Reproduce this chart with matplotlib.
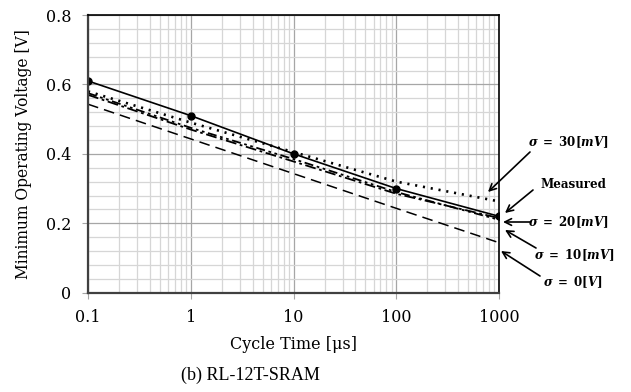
import matplotlib.pyplot as plt
from matplotlib.ticker import FixedLocator, MultipleLocator, NullFormatter

plt.rcParams['font.family'] = ['DejaVu Serif']
plt.rcParams['mathtext.fontset'] = 'dejavuserif'

cycle = [0.1, 1, 10, 100, 1000]
measured = [0.61, 0.51, 0.40, 0.30, 0.22]
sig30 = [0.58, 0.49, 0.405, 0.32, 0.263]
sig20 = [0.575, 0.475, 0.385, 0.29, 0.21]
sig10 = [0.57, 0.47, 0.378, 0.285, 0.215]
sig0 = [0.543, 0.443, 0.343, 0.243, 0.144]

xticks = [0.1, 1, 10, 100, 1000]
xticklabels = ['0.1', '1', '10', '100', '1000']
yticks = [0, 0.2, 0.4, 0.6, 0.8]
yticklabels = ['0', '0.2', '0.4', '0.6', '0.8']

fig = plt.figure(figsize=(6.31, 3.92), dpi=100)
ax = fig.add_axes([0.1395, 0.2533, 0.6515, 0.7084])

ax.plot(cycle, sig0, color='black', lw=1.1, ls=(0, (7, 4)))
ax.plot(cycle, sig10, color='black', lw=1.3, ls=(0, (6, 2, 1.5, 2)))
ax.plot(cycle, sig20, color='black', lw=1.3, ls=(0, (5, 2, 1.5, 2, 1.5, 2)))
ax.plot(cycle, sig30, color='black', lw=1.9, ls=(0, (0.8, 2.2)))
ax.plot(cycle, measured, color='black', lw=1.2, marker='o', ms=5)

ax.set_xscale('log')
ax.set_xlim(0.1, 1000)
ax.set_ylim(0, 0.8)
ax.xaxis.set_major_locator(FixedLocator(xticks))
ax.set_xticklabels(xticklabels)
ax.xaxis.set_minor_formatter(NullFormatter())
ax.set_yticks(yticks)
ax.set_yticklabels(yticklabels)
ax.yaxis.set_minor_locator(MultipleLocator(0.04))

ax.grid(which='major', color='#a6a6a6', lw=0.9)
ax.grid(which='minor', color='#d6d6d6', lw=0.9)
ax.set_axisbelow(True)
ax.tick_params(which='major', length=4, color='#a6a6a6', labelsize=11.5, pad=8)
ax.tick_params(which='minor', length=0)
for s in ['left', 'bottom']:
    ax.spines[s].set_color('#404040')
    ax.spines[s].set_linewidth(1.6)
for s in ['top', 'right']:
    ax.spines[s].set_color('black')
    ax.spines[s].set_linewidth(1.2)

ax.set_xlabel('Cycle Time [μs]', fontsize=11.5, labelpad=7)
ax.set_ylabel('Minimum Operating Voltage [V]', fontsize=11.2, labelpad=10)
fig.text(0.397, 0.03, '(b) RL-12T-SRAM', fontsize=13, ha='center',
         family='Liberation Serif')

H = 392
notes = [
    (r'$\mathbfit{\sigma}\ \mathbf{=\ 30[}\mathbfit{mV}\mathbf{]}$', (568, 142), (530, 152), (488, 192)),
    ('Measured', (573, 185), (533, 190), (505, 213)),
    (r'$\mathbfit{\sigma}\ \mathbf{=\ 20[}\mathbfit{mV}\mathbf{]}$', (568, 222), (530, 222), (503, 222)),
    (r'$\mathbfit{\sigma}\ \mathbf{=\ 10[}\mathbfit{mV}\mathbf{]}$', (574, 255), (536, 248), (505, 230)),
    (r'$\mathbfit{\sigma}\ \mathbf{=\ 0[}\mathbfit{V}\mathbf{]}$', (573, 282), (540, 276), (501, 251)),
]
for label, txt, tail, head in notes:
    fig.text(txt[0] / 631, 1 - txt[1] / H, label, fontsize=8.6, fontweight='bold',
             ha='center', va='center')
    ax.annotate('', xy=(head[0], H - head[1]), xycoords='figure pixels',
                xytext=(tail[0], H - tail[1]), textcoords='figure pixels',
                arrowprops=dict(arrowstyle='->', color='black', lw=1.2,
                                mutation_scale=12, shrinkA=0, shrinkB=0),
                annotation_clip=False)

fig.savefig('out.png', dpi=100)
